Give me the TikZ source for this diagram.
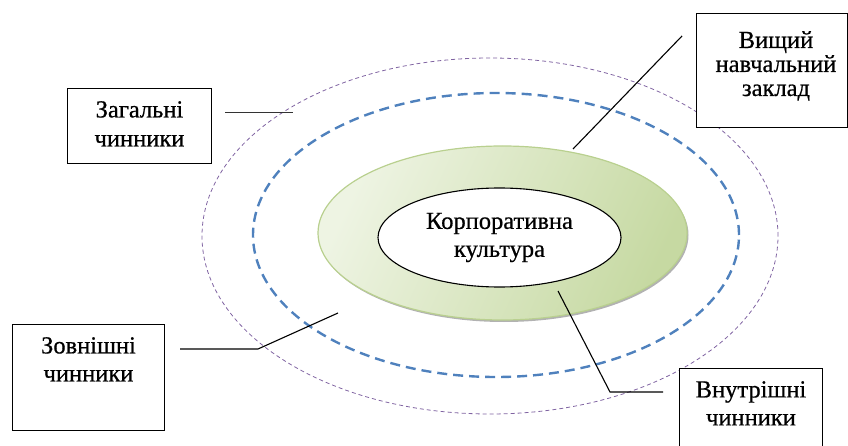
\documentclass[tikz,border=0pt]{standalone}
\usepackage{fontspec}
\setmainfont{Liberation Serif}
\newfontfamily\timesfont[FakeBold=0.6]{Liberation Serif}
\usetikzlibrary{shapes.geometric}

\definecolor{ringPurple}{HTML}{8064A2}
\definecolor{ringBlue}{HTML}{4F81BD}
\definecolor{leafLight}{HTML}{EEF4E3}
\definecolor{leafDark}{HTML}{C6D9A2}
\definecolor{leafRim}{HTML}{B9D08F}

\tikzset{
  card/.style={draw, line width=1pt, fill=white, inner sep=0pt, anchor=north west},
  cardtext/.style={anchor=north, inner sep=0pt, align=center, font=\timesfont\fontsize{24.5}{28}\selectfont},
  pointer/.style={line width=1.1pt},
}

\begin{document}
\begin{tikzpicture}[x=1pt, y=-1pt]
\useasboundingbox (0,0) rectangle (848,446);

% Outer ring
\draw[ringPurple, line width=0.8pt, dash pattern=on 4pt off 3pt] (490,236) ellipse [x radius=288pt, y radius=178pt];
% Middle ring
\draw[ringBlue, line width=2.4pt, dash pattern=on 10pt off 6pt] (496,235) ellipse [x radius=243pt, y radius=142pt];

% Green disk and its shadow
\fill[gray!60] ([xshift=1.5pt, yshift=-2pt]502.5,233) ellipse [x radius=184.5pt, y radius=87pt];
\shadedraw[top color=leafLight, bottom color=leafDark, shading angle=65, draw=leafRim, line width=1.2pt] (502.5,233) ellipse [x radius=184.5pt, y radius=87pt];

% Centre
\node[ellipse, draw, line width=1.1pt, fill=white, minimum width=243pt, minimum height=99pt,
  inner sep=0pt, align=center, font=\timesfont\fontsize{24.5}{28}\selectfont] (core) at (499.5,237.5) {Корпоративна\\культура};

% Boxes
\node[card, minimum width=144pt, minimum height=75pt,
  label={[cardtext, yshift=-13pt, font=\timesfont\fontsize{24.5}{29}\selectfont]north:{Загальні\\чинники}}] (general) at (67,88) {};
\node[card, minimum width=151pt, minimum height=114pt,
  label={[cardtext, yshift=-18pt, xshift=4pt, font=\timesfont\fontsize{24.5}{24}\selectfont]north:{Вищий\\навчальний\\заклад}}] (school) at (696,13) {};
\node[card, minimum width=152pt, minimum height=106pt,
  label={[cardtext, yshift=-13pt]north:{Зовнішні\\чинники}}] (outer) at (12,324) {};
\node[card, minimum width=143pt, minimum height=106pt,
  label={[cardtext, yshift=-13pt]north:{Внутрішні\\чинники}}] (inner) at (679,368) {};

% Pointer ends
\coordinate (generalFoot) at (225,112);
\coordinate (generalTip) at (293,112);
\coordinate (schoolFoot) at (573,149);
\coordinate (schoolTip) at (682,36);
\coordinate (outerFoot) at (180,349);
\coordinate (outerBend) at (258,349);
\coordinate (outerTip) at (338,313);
\coordinate (innerTip) at (558,291);
\coordinate (innerBend) at (610,392);
\coordinate (innerFoot) at (663,392);

% Pointers
\draw[pointer, line width=0.8pt, black!80] (generalFoot) -- (generalTip);
\draw[pointer] (schoolFoot) -- (schoolTip);
\draw[pointer] (outerFoot) -- (outerBend) -- (outerTip);
\draw[pointer] (innerTip) -- (innerBend) -- (innerFoot);

\end{tikzpicture}
\end{document}
